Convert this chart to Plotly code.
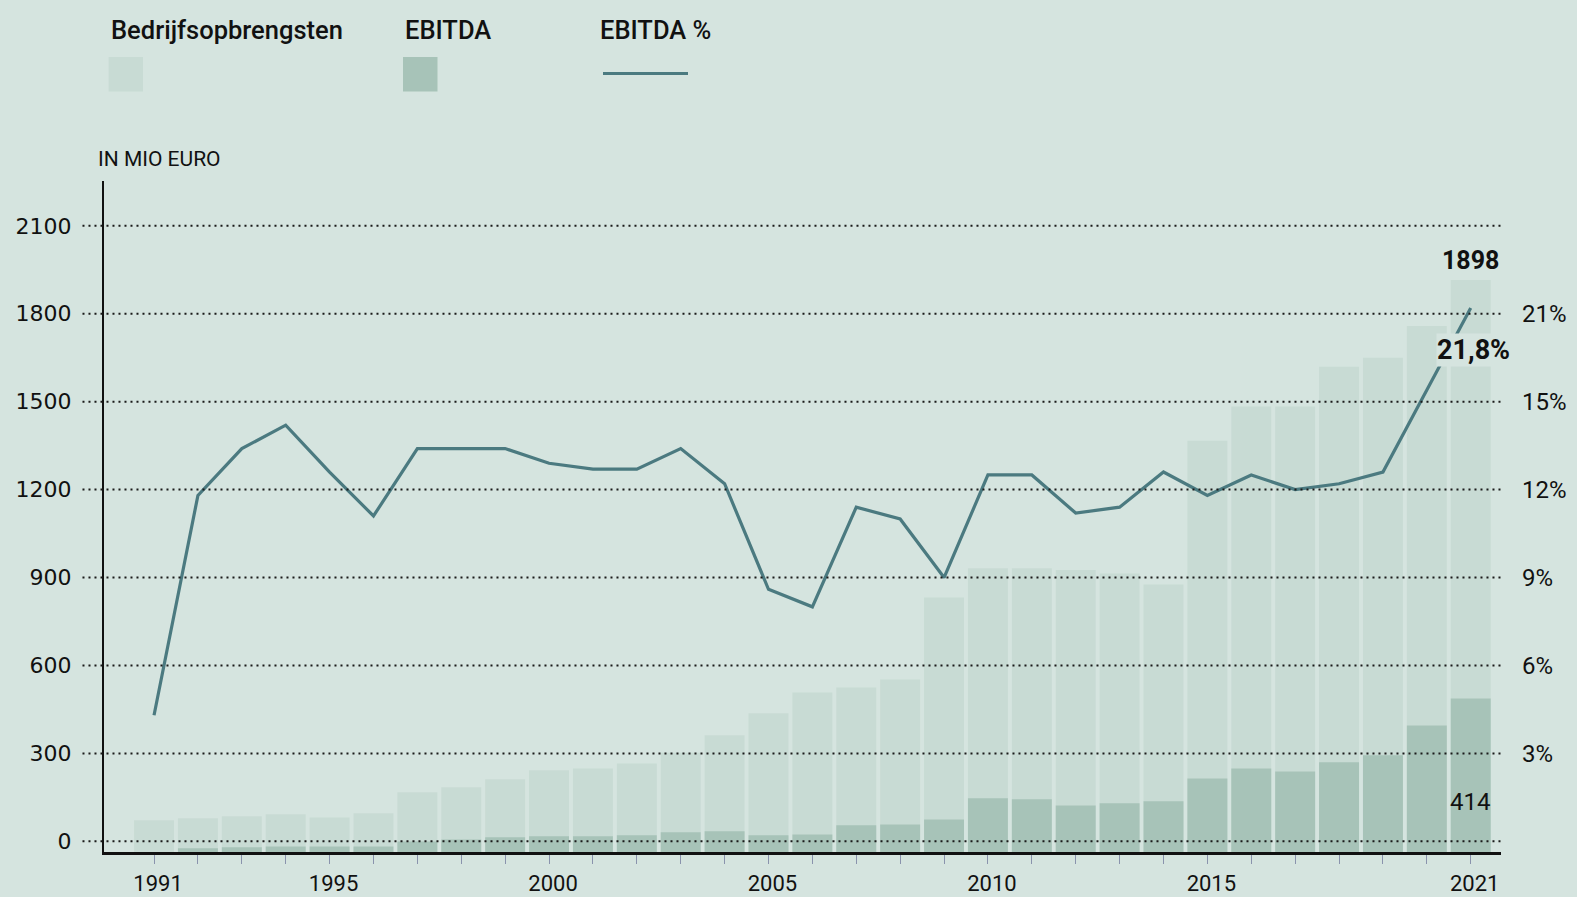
import plotly.graph_objects as go

# ---- data ----
years = list(range(1991, 2022))
# bar heights measured from the x-axis baseline, in "mio euro" axis units
revenue = [108, 115, 122, 129, 118, 132, 204, 221, 248, 279, 285, 302, 339, 398, 473,
           544, 561, 589, 868, 968, 968, 962, 950, 913, 1403, 1520, 1520, 1656, 1686, 1795, 1952]
ebitda = [0, 13, 16, 19, 19, 19, 36, 43, 50, 54, 54, 57, 67, 71, 57,
          60, 91, 94, 111, 183, 180, 159, 166, 173, 251, 285, 275, 306, 330, 432, 524]
ebitda_pct = [4.3, 11.8, 13.4, 14.2, 12.6, 11.1, 13.4, 13.4, 13.4, 12.9, 12.7, 12.7, 13.4, 12.2, 8.6,
              8.0, 11.4, 11.0, 9.0, 12.5, 12.5, 11.2, 11.4, 12.6, 11.8, 12.5, 12.0, 12.2, 12.6, 15.4, 18.2]
left_ticks = [0, 300, 600, 900, 1200, 1500, 1800, 2100]
left_ticktext = ["0", "300", "600", "900", "1200", "1500", "1800", "2100"]
right_ticks = [3, 6, 9, 12, 15, 18]
right_ticktext = ["3%", "6%", "9%", "12%", "15%", "21%"]
year_labels = {1991: "1991", 1995: "1995", 2000: "2000", 2005: "2005", 2010: "2010", 2015: "2015", 2021: "2021"}
legend_names = ["Bedrijfsopbrengsten", "EBITDA", "EBITDA %"]
label_revenue = "1898"
label_ebitda = "414"
label_pct = "21,8%"

# ---- styles ----
BG = "#d5e4df"
C_REV = "#c8dbd4"
C_EB = "#a7c3b8"
C_LINE = "#4b7a80"
TXT = "#111111"
Y_MIN, Y_MAX = -36.5, 2253
X_MIN, X_MAX = 1989.86, 2021.69
COND = "Roboto, Liberation Sans, sans-serif"
WIDE = "DejaVu Sans, Verdana, sans-serif"
W, H = 1577, 897
ML, MR, MT, MB = 104, 76, 181, 45

fig = go.Figure()
fig.add_trace(go.Bar(x=years, y=revenue, base=Y_MIN, marker=dict(color=C_REV, line=dict(width=0)),
                     width=0.91, name=legend_names[0], showlegend=False, hoverinfo="skip"))
fig.add_trace(go.Bar(x=years, y=ebitda, base=Y_MIN, marker=dict(color=C_EB, line=dict(width=0)),
                     width=0.91, name=legend_names[1], showlegend=False, hoverinfo="skip"))
fig.add_trace(go.Scatter(x=years, y=ebitda_pct, yaxis="y2", mode="lines",
                         line=dict(color=C_LINE, width=3.2), name=legend_names[2], showlegend=False))

for v in left_ticks:
    fig.add_shape(type="line", xref="paper", yref="y", x0=-0.0154, x1=1.0, y0=v, y1=v,
                  line=dict(color="#1a1a1a", width=2, dash="2px,4px"), layer="above")

fig.update_layout(
    width=W, height=H,
    paper_bgcolor=BG, plot_bgcolor=BG,
    margin=dict(l=ML, r=MR, t=MT, b=MB, autoexpand=False),
    barmode="overlay",
    xaxis=dict(range=[X_MIN, X_MAX], tickmode="array", tickvals=years, automargin=False,
               ticktext=[year_labels.get(y, "") for y in years],
               ticks="outside", ticklen=9, tickwidth=1, tickcolor="#8a93ad",
               showgrid=False, zeroline=False, showline=True, linecolor="#111", linewidth=2.5,
               tickfont=dict(family=COND, size=22, color=TXT), ticklabelstandoff=1, ticklabelshift=4),
    yaxis=dict(range=[Y_MIN, Y_MAX], tickmode="array", tickvals=left_ticks, ticktext=left_ticktext,
               automargin=False,
               showgrid=False, zeroline=False, showline=True, linecolor="#111", linewidth=2,
               ticks="", tickfont=dict(family=WIDE, size=22, color=TXT), ticklabelstandoff=26),
    yaxis2=dict(range=[Y_MIN / 100, Y_MAX / 100], overlaying="y", side="right", tickmode="array",
                automargin=False,
                tickvals=right_ticks, ticktext=right_ticktext, showgrid=False, zeroline=False,
                showline=False, ticks="", tickfont=dict(family=COND, size=24, color=TXT),
                ticklabelstandoff=20),
    font=dict(family=COND, color=TXT),
)

pw, ph = W - ML - MR, H - MT - MB
def pxp(x):
    return (x - ML) / pw
def pyp(y):
    return (H - MB - y) / ph

# legend (manual)
leg_x = [108.6, 403, 598]
for name, lx in zip(legend_names, leg_x):
    fig.add_annotation(xref="paper", yref="paper", x=pxp(lx), y=pyp(30),
                       text=name, showarrow=False, xanchor="left", yanchor="middle",
                       font=dict(family=COND, size=25.5, color=TXT, weight=500))
fig.add_shape(type="rect", xref="paper", yref="paper", x0=pxp(108.6), x1=pxp(143), y0=pyp(91.5), y1=pyp(57),
              fillcolor=C_REV, line=dict(width=0))
fig.add_shape(type="rect", xref="paper", yref="paper", x0=pxp(403), x1=pxp(437.5), y0=pyp(91.5), y1=pyp(57),
              fillcolor=C_EB, line=dict(width=0))
fig.add_shape(type="line", xref="paper", yref="paper", x0=pxp(603), x1=pxp(688), y0=pyp(73.5), y1=pyp(73.5),
              line=dict(color=C_LINE, width=3.2))
fig.add_annotation(xref="paper", yref="paper", x=pxp(96), y=pyp(159), text="IN MIO EURO", showarrow=False,
                   xanchor="left", yanchor="middle", font=dict(family=COND, size=21, color=TXT))

# value labels
fig.add_annotation(x=years[-1], y=Y_MIN + revenue[-1], text=label_revenue, showarrow=False,
                   xanchor="center", yanchor="bottom", yshift=3,
                   font=dict(family=COND, size=25, color=TXT, weight=700))
fig.add_annotation(x=years[-1], y=ebitda_pct[-1], yref="y2", text=label_pct, showarrow=False,
                   xanchor="center", yanchor="middle", yshift=-42, xshift=3, bgcolor=BG, borderpad=0,
                   font=dict(family=COND, size=27, color=TXT, weight=700))
fig.add_annotation(x=years[-1], y=0, text=label_ebitda, showarrow=False,
                   xanchor="right", yanchor="middle", xshift=21, yshift=39,
                   font=dict(family=COND, size=24, color=TXT))

fig.write_html("out.html", config={"displayModeBar": False})

# remove the default page margin so the figure sits at the window's top-left corner
with open("out.html", "r", encoding="utf-8") as f:
    html = f.read()
html = html.replace("<head>", "<head><style>html,body{margin:0;padding:0;overflow:hidden;}</style>", 1)
with open("out.html", "w", encoding="utf-8") as f:
    f.write(html)
